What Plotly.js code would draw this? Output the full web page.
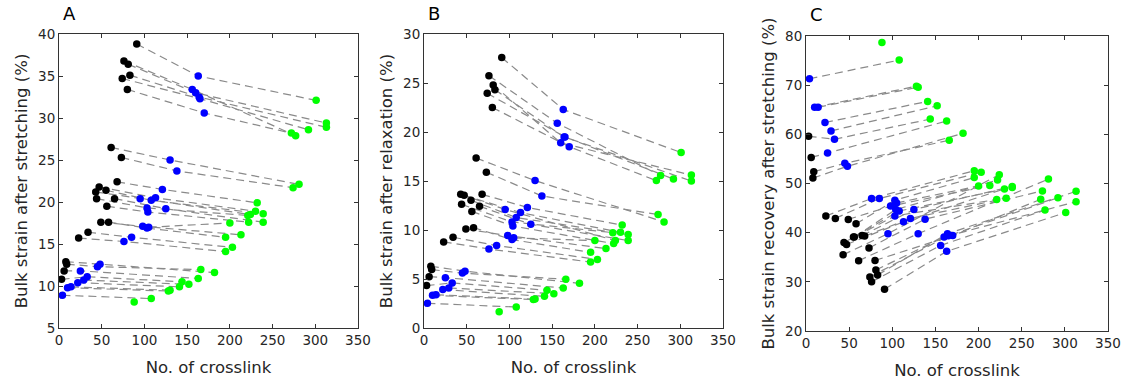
<!DOCTYPE html>
<html>
<head>
<meta charset="utf-8">
<script src="https://cdn.plot.ly/plotly-3.0.1.min.js"></script>
<style>html,body{margin:0;padding:0;background:#fff;}#chart{width:1129px;height:383px;}</style>
</head>
<body>
<div id="chart"></div>
<script>
// Trajectories: black (initial) -> blue -> green. Shared crosslink numbers across panels.
const xBlack = [91, 76, 81, 83, 74, 80,
  61, 73, 68, 47, 55, 43, 44, 65, 56, null, 49, 58, 34, 23,
  null, null, null, null, null, null, 3, 6, 9, 8];
const xBlue = [163, 156, 160, 164, 165, 170,
  130, 138, 121, 113, 108, 95, 103, 125, 104, 105, 98, 103, 85, 76,
  null, 4, 10, 14, 22, 29, 33, 25, 45, 48];
const xGreen = [301, 277, 313, 313, 292, 272,
  281, 274, 232, 230, 239, 224, 221, 239, 222, 200, 213, 195, 203, 195,
  88, 108, 128, 130, 141, 152, 144, 163, 166, 182];

// Panel A: bulk strain after stretching (%)
const aBlack = [38.8, 36.8, 36.4, 35.1, 34.7, 33.4,
  26.5, 25.3, 22.4, 21.8, 21.4, 21.2, 20.4, 20.4, 19.5, null, 17.6, 17.6, 16.4, 15.7,
  null, null, null, null, null, null, 10.8, 11.8, 12.6, 12.9];
const aBlue = [35.0, 33.4, 33.0, 32.5, 32.3, 30.6,
  25.0, 23.7, 21.5, 20.5, 20.2, 20.4, 19.3, 19.2, 18.8, 17.0, 17.1, 16.9, 15.8, 15.3,
  null, 8.9, 9.8, 9.9, 10.4, 10.7, 11.1, 11.8, 12.3, 12.6];
const aGreen = [32.1, 27.9, 29.4, 28.9, 28.6, 28.2,
  22.1, 21.7, 19.9, 18.9, 18.6, 18.5, 18.4, 17.6, 17.6, 17.5, 16.1, 15.8, 14.6, 14.1,
  8.1, 8.5, 9.4, 9.5, 9.9, 10.2, 10.5, 10.9, 11.95, 11.6];

// Panel B: bulk strain after relaxation (%)
const bBlack = [27.6, 25.75, 24.8, 24.3, 23.95, 22.5,
  17.35, 15.9, 13.64, 13.54, 13.03, 13.64, 12.62, 12.42, 11.9, null, 10.1, 10.24, 9.26, 8.78,
  null, null, null, null, null, null, 4.33, 5.24, 5.96, 6.3];
const bBlue = [22.3, 20.9, 18.9, 19.5, 19.5, 18.5,
  15.04, 13.47, 12.3, 11.78, 11.27, 12.1, 10.82, 10.58, 10.4, 9.2, 9.43, 9.02, 8.41, 8.06,
  null, 2.52, 3.33, 3.4, 3.92, 4.08, 4.6, 5.14, 5.6, 5.8];
const bGreen = [17.9, 15.55, 15.6, 15.0, 15.2, 15.04,
  10.82, 11.57, 10.5, 9.76, 9.53, 8.92, 9.73, 8.92, 8.61, 8.92, 8.1, 7.72, 7.0, 6.73,
  1.67, 2.14, 2.9, 2.95, 3.23, 3.5, 3.85, 4.08, 4.97, 4.56];

// Panel C: bulk strain recovery after stretching (%)
const cBlack = [28.5, 30.0, 32.4, 31.4, 31.0, 34.35,
  34.3, 36.9, 39.3, 37.6, 39.1, 35.5, 38.0, 39.4, 39.1, null, 42.7, 41.8, 42.9, 43.4,
  null, null, null, null, null, null, 59.6, 55.3, 52.4, 51.1];
const cBlue = [36.2, 37.4, 39.1, 39.8, 39.35, 39.4,
  39.8, 42.75, 42.9, 42.2, 44.4, 39.8, 43.4, 44.7, 44.7, 46.05, 45.4, 46.6, 46.95, 46.95,
  null, 71.3, 65.5, 65.5, 62.4, 60.7, 59.0, 56.2, 54.1, 53.5];
const cGreen = [44.1, 44.6, 46.3, 48.4, 47.1, 46.8,
  50.9, 48.5, 47.0, 48.9, 49.2, 51.8, 46.75, 49.4, 50.7, 49.5, 49.6, 51.2, 52.3, 52.6,
  78.7, 75.1, 69.8, 69.6, 66.7, 65.8, 63.1, 62.7, 58.8, 60.2];

const panelLetters = ['A', 'B', 'C'];
const xTitle = 'No. of crosslink';
const yTitles = ['Bulk strain after stretching (%)', 'Bulk strain after relaxation (%)', 'Bulk strain recovery after stretching (%)'];

const W = 1129, H = 383;
const boxes = [
  {l: 59, r: 358, t: 34, b: 328, yr: [5, 40], dy: 5},
  {l: 424, r: 723, t: 34, b: 328, yr: [0, 30], dy: 5},
  {l: 806, r: 1108, t: 36, b: 331, yr: [20, 80], dy: 10}
];
const panelY = [[aBlack, aBlue, aGreen], [bBlack, bBlue, bGreen], [cBlack, cBlue, cGreen]];

const traces = [];
panelY.forEach((ys, p) => {
  const xa = p === 0 ? 'x' : 'x' + (p + 1);
  const ya = p === 0 ? 'y' : 'y' + (p + 1);
  const lx = [], ly = [];
  for (let i = 0; i < xGreen.length; i++) {
    lx.push(xBlack[i], xBlue[i], xGreen[i], null);
    ly.push(ys[0][i], ys[1][i], ys[2][i], null);
  }
  traces.push({x: lx, y: ly, xaxis: xa, yaxis: ya, mode: 'lines', type: 'scatter',
    line: {color: '#8a8a8a', width: 1.2, dash: '8px,5px'}, connectgaps: false, hoverinfo: 'skip'});
  const cols = ['#000000', '#0000ff', '#00ff00'];
  const xs = [xBlack, xBlue, xGreen];
  for (let k = 0; k < 3; k++) {
    traces.push({x: xs[k], y: ys[k], xaxis: xa, yaxis: ya, mode: 'markers', type: 'scatter',
      marker: {color: cols[k], size: 7.5, line: {width: 0}}});
  }
});

const common = {
  showline: true, linecolor: '#333333', linewidth: 1, mirror: 'ticks',
  ticks: 'inside', ticklen: 4, tickcolor: '#333333', tickwidth: 1,
  showgrid: false, zeroline: false, automargin: false,
  tickfont: {family: 'DejaVu Sans', size: 13.5, color: '#262626'}
};

const layout = {
  width: W, height: H, margin: {l: 0, r: 0, t: 0, b: 0},
  paper_bgcolor: '#ffffff', plot_bgcolor: '#ffffff', showlegend: false,
  font: {family: 'DejaVu Sans', color: '#262626'},
  annotations: []
};
boxes.forEach((bx, p) => {
  const sx = p === 0 ? '' : String(p + 1);
  layout['xaxis' + sx] = Object.assign({}, common, {
    domain: [bx.l / W, bx.r / W], range: [0, 350], dtick: 50, tick0: 0,
    anchor: 'y' + sx,
    title: {text: xTitle, font: {family: 'DejaVu Sans', size: 16.5, color: '#262626'}, standoff: 14}
  });
  layout['yaxis' + sx] = Object.assign({}, common, {
    domain: [1 - bx.b / H, 1 - bx.t / H], range: bx.yr, dtick: bx.dy, tick0: 0,
    anchor: 'x' + sx,
    title: {text: yTitles[p], font: {family: 'DejaVu Sans', size: 16.5, color: '#262626'}, standoff: 6}
  });
  layout.annotations.push({
    text: panelLetters[p], xref: 'paper', yref: 'paper', showarrow: false,
    x: (bx.l + 2) / W, y: 1 - (bx.t - 21) / H, xanchor: 'left', yanchor: 'middle',
    font: {family: 'DejaVu Sans', size: 18, color: '#000000'}
  });
});

Plotly.newPlot('chart', traces, layout, {staticPlot: true, displayModeBar: false});
</script>
</body>
</html>
